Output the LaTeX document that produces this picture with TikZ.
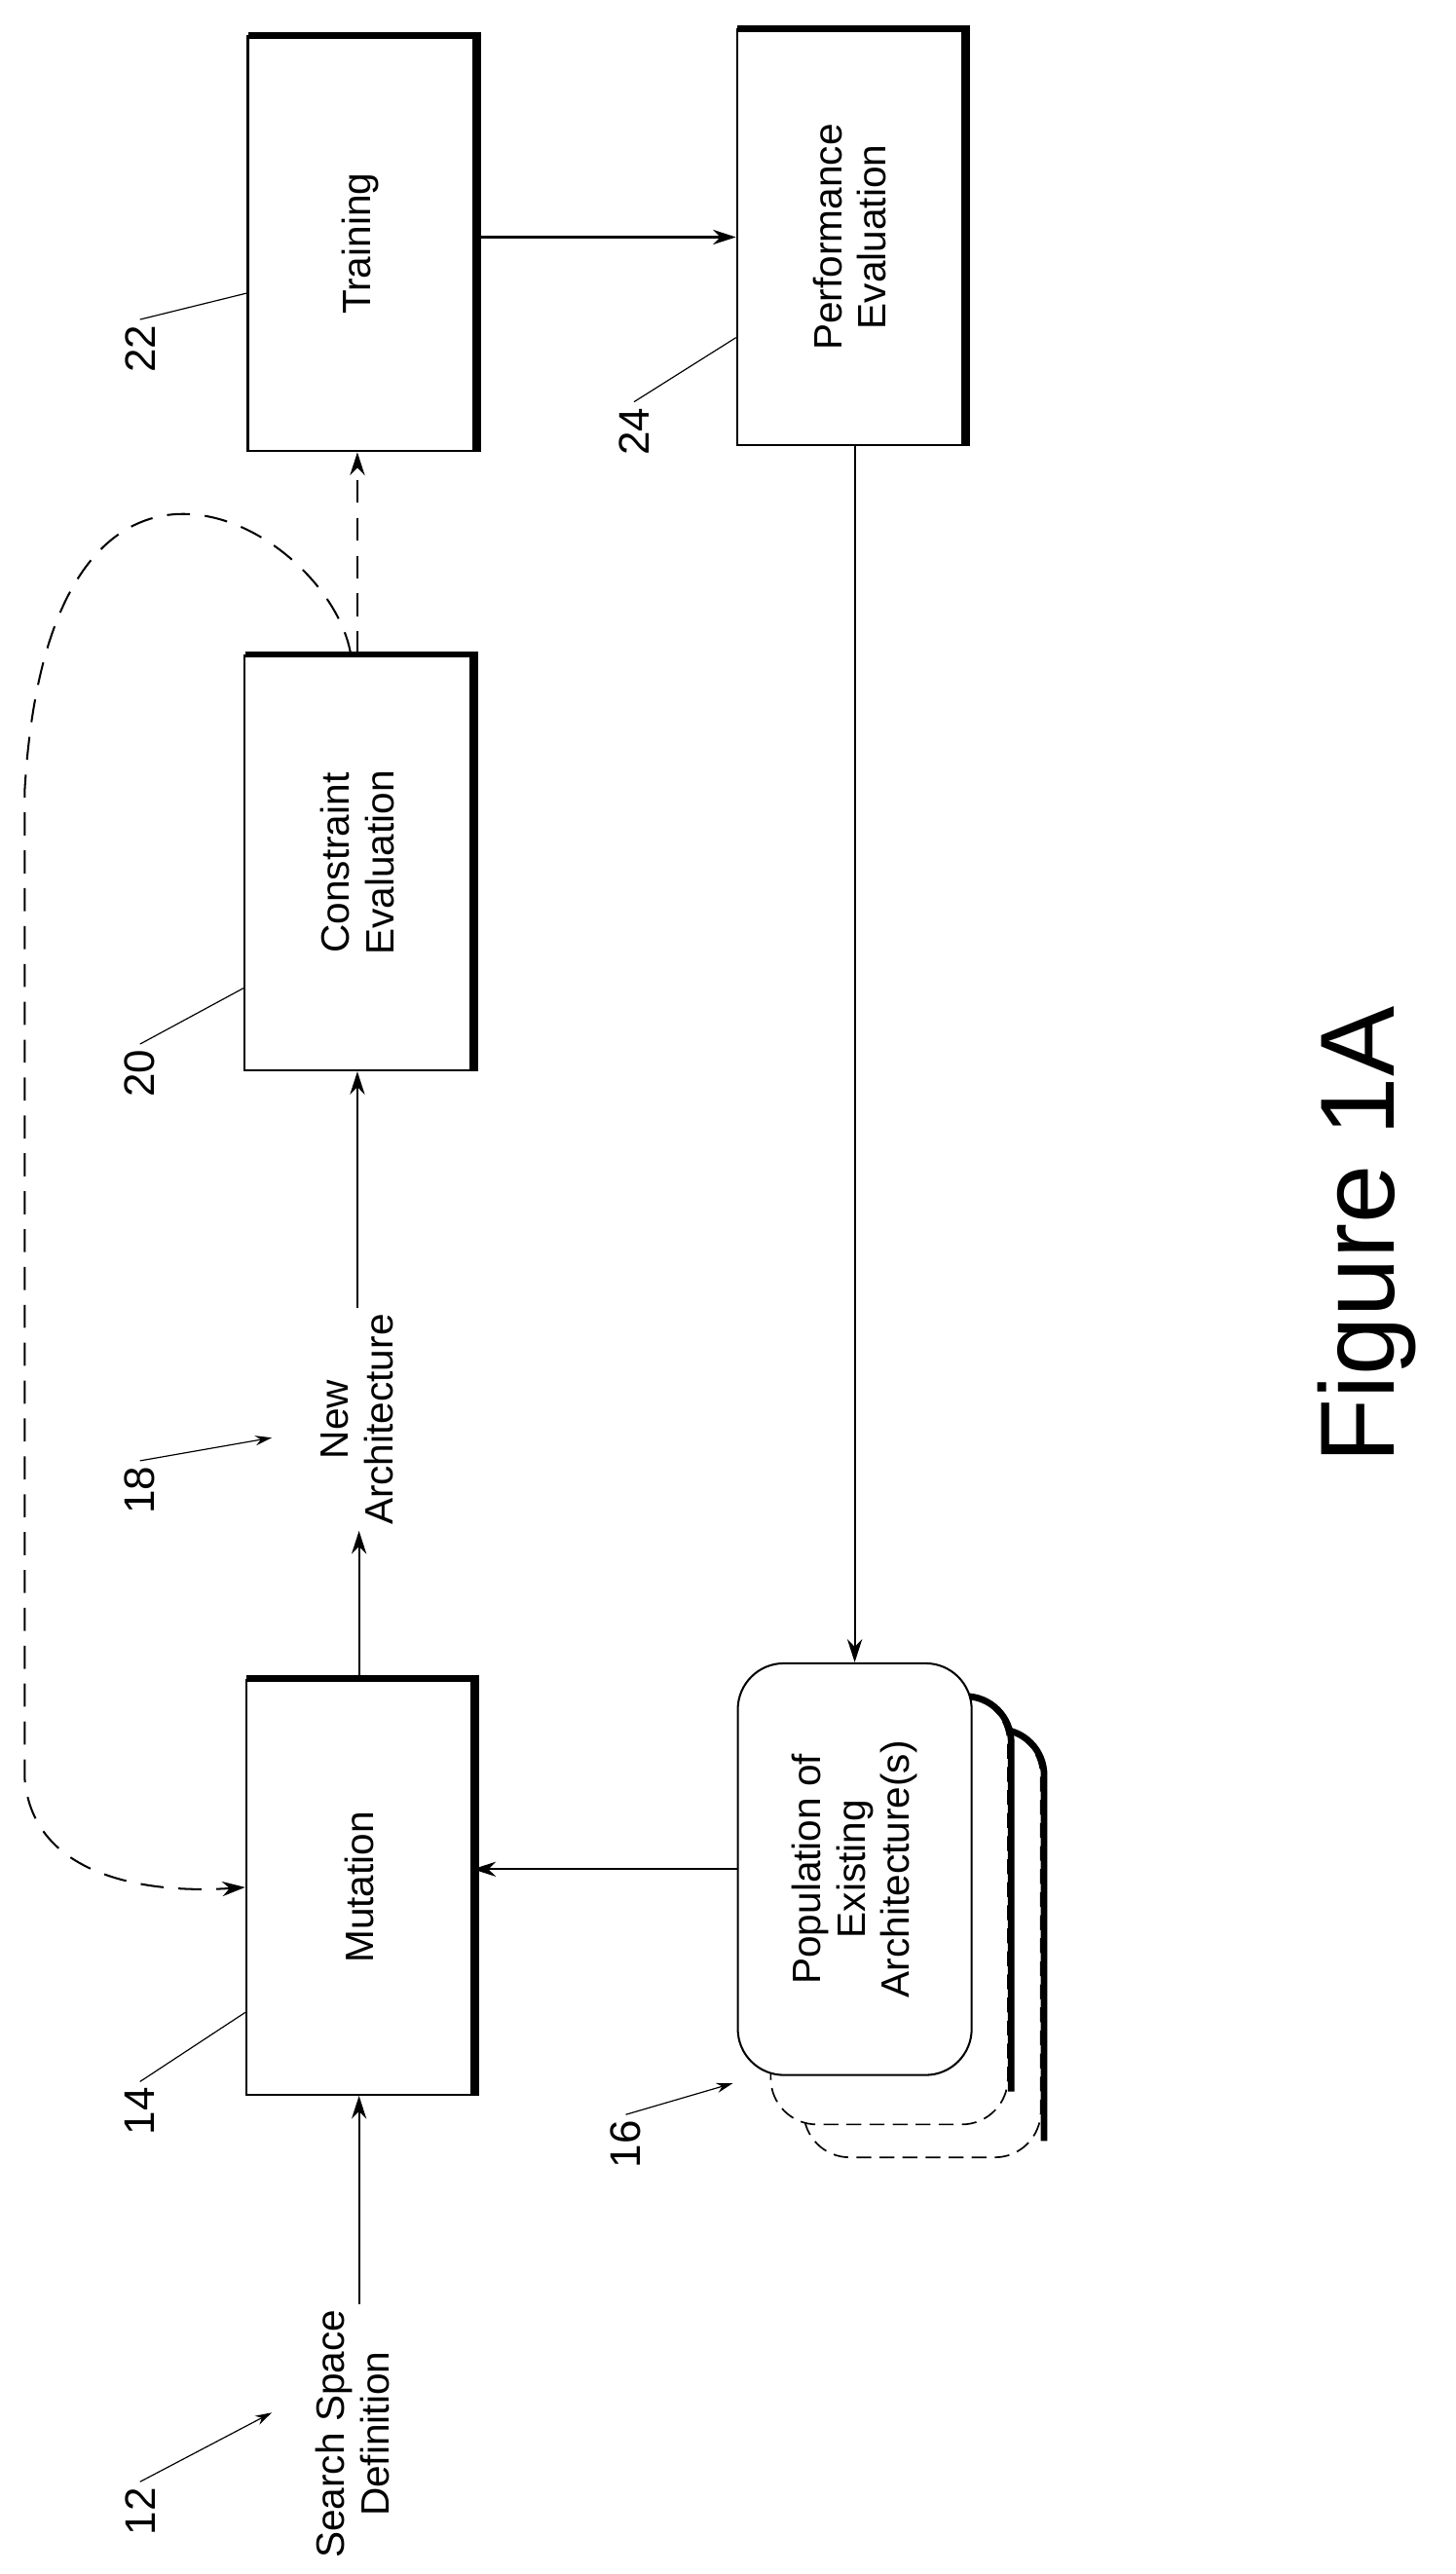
\documentclass[tikz,border=0pt]{standalone}
\usepackage{fontspec}
\setmainfont{Liberation Sans}
\usetikzlibrary{arrows.meta}
\tikzset{
  blk/.style={draw=black,line width=1.2pt,minimum width=137pt,minimum height=252pt,inner sep=0pt},
  txt/.style={rotate=90,align=center,font=\fontsize{24}{27}\selectfont},
  num/.style={rotate=90,font=\fontsize{26}{30}\selectfont},
  arr/.style={-{Stealth[length=14pt,width=9pt]},line width=1.2pt},
  lead/.style={line width=0.7pt},
  copy/.style={dashed,dash pattern=on 9pt off 5pt,line width=1pt,rounded corners=28pt,fill=white},
}
\begin{document}
\begin{tikzpicture}[x=1pt,y=-1pt]
	\useasboundingbox (0,0) rectangle (884,1563);

	% boxes
	\node[blk] (train) at (219,148) {};
	\node[blk] (perf)  at (516,144) {};
	\node[blk] (cons)  at (217,524) {};
	\node[blk] (mut)   at (218,1146) {};
	\foreach \b in {train,perf,cons,mut}{
		\draw[line width=4pt] ([xshift=1pt]\b.north west) -- ([xshift=2pt]\b.north east) -- ([xshift=2pt]\b.south east);
	}

	% stacked population
	\draw[copy] (488,1050) rectangle (632,1310);
	\draw[line width=4pt,rounded corners=28pt] (580,1050) -- (634,1050) -- (634,1300);
	\draw[copy] (468,1030) rectangle (612,1290);
	\draw[line width=4pt,rounded corners=28pt] (560,1030) -- (614,1030) -- (614,1270);
	\node[draw=black,line width=1.2pt,fill=white,rounded corners=28pt,minimum width=142pt,minimum height=250pt] (pop) at (519,1135) {};
	\node[txt] at (pop) {Population of\\Existing\\Architecture(s)};

	% texts
	\node[txt] at (train) {Training};
	\node[txt] at (perf)  {Performance\\Evaluation};
	\node[txt] at (cons)  {Constraint\\Evaluation};
	\node[txt] at (mut)   {Mutation};
	\node[txt] (new)    at (217,862)  {New\\Architecture};
	\node[txt] (search) at (214,1478) {Search Space\\Definition};
	\node[rotate=90,font=\fontsize{64}{70}\selectfont] (fig) at (830,750) {Figure 1A};

	% arrows
	\draw[arr] (search.east -| mut.south) -- (mut.south);
	\draw[arr] (pop.west) -- (pop.west -| mut.east);
	\draw[arr] (mut.north) -- (mut.north |- new.west);
	\draw[arr] (cons.south |- new.east) -- (cons.south);
	\draw[arr,dashed,dash pattern=on 14pt off 9pt] (cons.north) -- (cons.north |- train.south);
	\draw[arr] (train.east |- perf.west) -- (perf.west);
	\draw[arr] (perf.south -| pop.north) -- (pop.north);
	\draw[arr,dashed,dash pattern=on 14pt off 9pt] ([xshift=-4pt]cons.north) .. controls (200,320) and (30,220) .. (15,480)
		-- (15,1080) .. controls (20,1140) and (90,1150) .. (mut.west);

	% reference numerals
	\node[num] (n22) at (85,212)  {22};
	\node[num] (n24) at (385,262) {24};
	\node[num] (n20) at (85,652)  {20};
	\node[num] (n18) at (85,905)  {18};
	\node[num] (n14) at (85,1282) {14};
	\node[num] (n12) at (85,1525) {12};
	\node[num] (n16) at (380,1302) {16};
	\draw[lead] (n22.east) -- (train.west |- 0,178);
	\draw[lead] (n24.east) -- (perf.west |- 0,205);
	\draw[lead] (n20.east) -- (cons.west |- 0,600);
	\draw[lead] (n14.east) -- (mut.west |- 0,1222);
	\draw[lead,-{Stealth[length=10pt,width=6pt]}] (n18.east) -- (165,873);
	\draw[lead,-{Stealth[length=10pt,width=6pt]}] (n12.east) -- (165,1465);
	\draw[lead,-{Stealth[length=10pt,width=6pt]}] (n16.east) -- (445,1265);
\end{tikzpicture}
\end{document}
